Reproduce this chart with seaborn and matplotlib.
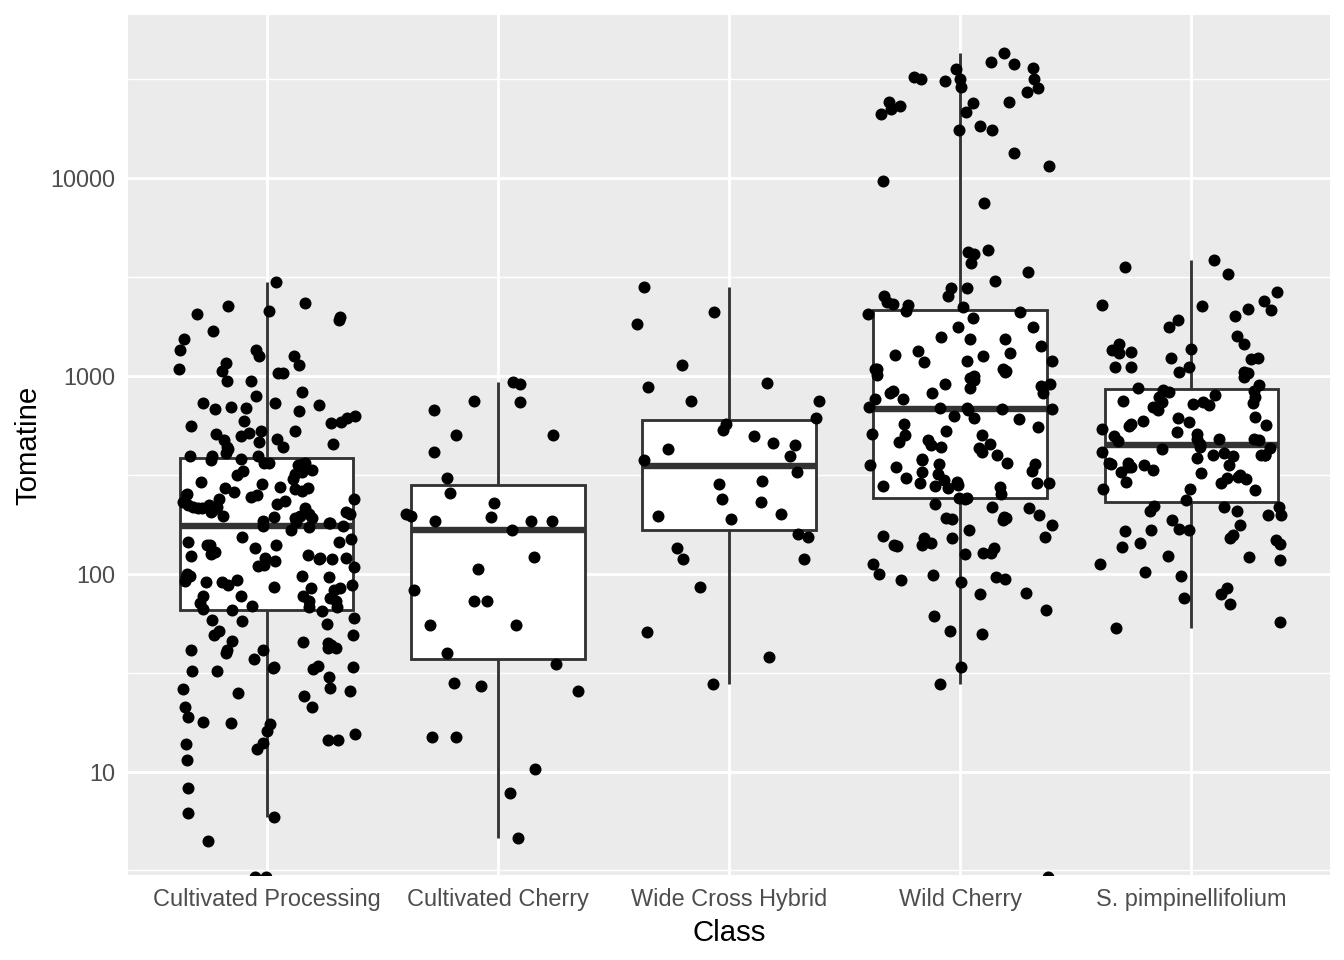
import numpy as np
import pandas as pd
import matplotlib
matplotlib.use("Agg")
import matplotlib.pyplot as plt
from matplotlib.ticker import FixedLocator, NullFormatter
import seaborn as sns

# values (log scale, tomatine)
classes = ["Cultivated Processing", "Cultivated Cherry", "Wide Cross Hybrid",
           "Wild Cherry", "S. pimpinellifolium"]

cultivated_processing = [
    2993, 2324, 2244, 2133, 1921, 1989, 2053, 1677, 1534, 1354, 1354, 1262, 1262,
    1160, 1133, 1031, 1081, 1028, 1051, 936, 936, 823, 786, 725, 726, 708, 694,
    678, 683, 608, 627, 660, 587, 576, 591, 554, 523, 478, 497, 507, 511, 523,
    474, 425, 463, 451, 434, 434, 409, 393, 393, 374,
    364, 393, 364, 378, 364, 333, 357, 328, 331, 354, 315, 274, 260, 250, 250,
    239, 239, 218, 262, 267, 272, 285, 233, 254, 222, 206, 214, 218, 215, 224,
    222, 199, 196, 193, 214, 196, 206, 180, 172, 174, 181, 192, 183, 174, 167,
    154, 140, 125, 139, 124, 118, 108, 118, 116, 123, 120, 120, 120, 111, 109,
    129, 139, 145, 144, 300, 290, 245, 230, 210, 200, 190, 185, 270, 320, 150,
    135, 100, 92,
    97, 88, 86, 96, 90.5, 90.5, 97, 85, 93, 96, 83, 88, 85, 77, 77, 75, 68, 77,
    72.5, 71, 65.8, 69, 73, 66, 68, 64.5, 59.7, 57.4, 58, 51, 55.7, 48.8, 45.1,
    41, 41.3, 42.1, 42.1, 41, 48.8, 44.6, 43.8, 45.5, 39.7, 37.2, 33.6, 32.1,
    30.2, 33.4, 34.3, 32.3, 33.7, 33, 24.9, 25.6, 24, 26.4, 26.2, 21.2, 21.3,
    17.6, 17.4, 17.8, 15.5, 16.1, 14.5, 18.8, 13.9, 13.8, 14.4, 13, 11.4, 8.3,
    5.9, 6.15, 4.45, 2.94, 2.94,
]

cultivated_cherry = [
    925, 908, 741, 738, 670, 501, 501, 414, 305, 256, 228, 199, 195, 194, 185,
    184, 184, 167, 122, 105, 82.5, 72.6, 72.6, 55.3, 55.3, 39.6, 34.9, 28.0,
    26.9, 25.4, 15.0, 15.0, 10.3, 7.83, 4.63,
]

wide_cross_hybrid = [
    2800, 2102, 1820, 1133, 918, 877, 747, 747, 611, 567, 457, 497, 531, 447,
    425, 392, 374, 326, 294, 285, 229, 238, 201, 196, 189, 158, 154, 135, 119,
    119, 86, 50.6, 37.9, 27.7,
]

wild_cherry = [
    42500, 35300, 31400, 30900, 31400, 31400, 38600, 37600, 36100, 32400, 28500,
    27000, 28800, 23900, 24200, 24200, 23000, 21400, 22200, 21100, 18200, 17500,
    17500, 13300, 11500, 9640, 7490, 4130, 4330, 4210, 3730, 3340,
    2779, 2779, 3027, 2540, 2540, 2352, 2306, 2052, 2133, 2279, 2218, 1958, 2092,
    1756, 1770, 1578, 1535, 1535, 1263, 1328, 1420, 1297, 1276, 1193, 1193, 1081,
    1169, 1039, 1081, 1052, 954, 1081, 969, 890, 814, 1000, 1007, 872, 907, 907,
    818, 839, 763, 818, 763, 678, 673, 684, 626, 697, 684, 678, 607, 614, 573,
    553, 527, 501, 502, 474, 448, 437, 507, 452, 464, 430, 414, 399, 379, 376,
    364, 357, 344, 357, 353, 331, 325, 318, 288, 272, 275, 297, 286, 252, 292,
    278, 278, 281, 286, 242, 305, 240, 237, 217, 190, 187, 192, 188, 214, 224,
    194, 177, 198, 166,
    152, 127, 134, 125, 142, 151, 155, 139.5, 139.5, 127.5, 153, 138, 112, 94.2,
    98.3, 90.6, 99, 92.8, 96.4, 79, 80, 65.6, 61, 49.6, 51, 33.8, 27.8, 2.94,
]

s_pimpinellifolium = [
    3853, 3535, 3273, 2663, 2397, 2242, 2289, 2177, 2152, 1997, 1920, 1757, 1594,
    1447, 1447, 1366, 1355, 1215, 1229, 1302, 1313, 1225, 1102, 988, 1031, 1111,
    1039, 1039, 1102, 897, 830, 801, 863, 780, 836, 739, 780, 850, 710, 747, 718,
    691, 739, 670, 724, 573, 592, 554, 541, 610, 620, 564, 587, 521, 472, 507,
    454, 481, 497, 478, 466, 481,
    433, 438, 425, 394, 399, 399, 364, 399, 412, 409, 399, 364, 383, 353, 346,
    354, 357, 346, 328, 334, 309, 306, 315, 288, 301, 292, 324, 267, 269, 264,
    235, 220, 207, 186, 198, 217, 207, 198, 177, 167, 169, 157, 151, 216, 166,
    164, 148, 143, 141, 136, 117, 123, 122, 112, 97, 102, 85, 78.5, 75.5, 70.6,
    57, 53.2,
]

y_ticks = [10, 100, 1000, 10000]
y_tick_labels = ["10", "100", "1000", "10000"]

series = [cultivated_processing, cultivated_cherry, wide_cross_hybrid,
          wild_cherry, s_pimpinellifolium]
df = pd.DataFrame({
    "Class": [c for c, vals in zip(classes, series) for _ in vals],
    "Tomatine": [v for vals in series for v in vals],
})

# ggplot-like grey theme
sns.set_style("darkgrid", {"axes.facecolor": "#EBEBEB", "grid.color": "white"})
plt.rcParams["font.family"] = ["Liberation Sans", "DejaVu Sans"]

fig, ax = plt.subplots(figsize=(7, 5), dpi=192)
fig.subplots_adjust(left=128 / 1344, right=1330 / 1344,
                    top=1 - 15 / 960, bottom=1 - 875 / 960)

sns.boxplot(data=df, x="Class", y="Tomatine", order=classes, log_scale=True,
            width=0.75, color="white", saturation=1, linecolor="#333333",
            linewidth=1.07, showfliers=False,
            medianprops={"linewidth": 2.4}, capprops={"linewidth": 0}, ax=ax)

np.random.seed(3)
sns.stripplot(data=df, x="Class", y="Tomatine", order=classes, jitter=0.4,
              color="black", size=4.5, linewidth=0, zorder=3, ax=ax)

ax.set_xlim(-0.6, 4.6)
ax.set_ylim(3.0, 66500)
ax.set_yticks(y_ticks)
ax.set_yticklabels(y_tick_labels)
ax.yaxis.set_minor_locator(FixedLocator([10 ** (k + 0.5) for k in range(0, 5)]))
ax.yaxis.set_minor_formatter(NullFormatter())

ax.set_axisbelow(True)
ax.grid(which="major", color="white", linewidth=1.07)
ax.yaxis.grid(True, which="minor", color="white", linewidth=0.53)
ax.xaxis.grid(True, which="major", color="white", linewidth=1.07)

for sp in ax.spines.values():
    sp.set_visible(False)

ax.tick_params(axis="both", which="major", length=2.75, width=1.07,
               color="#333333", labelcolor="#4D4D4D", labelsize=8.8, pad=2.2)
ax.tick_params(axis="both", which="minor", length=0)

ax.set_xlabel("Class", fontsize=11, color="black", labelpad=2.75)
ax.set_ylabel("Tomatine", fontsize=11, color="black", labelpad=2.75)

fig.savefig("out.png", dpi=192)
